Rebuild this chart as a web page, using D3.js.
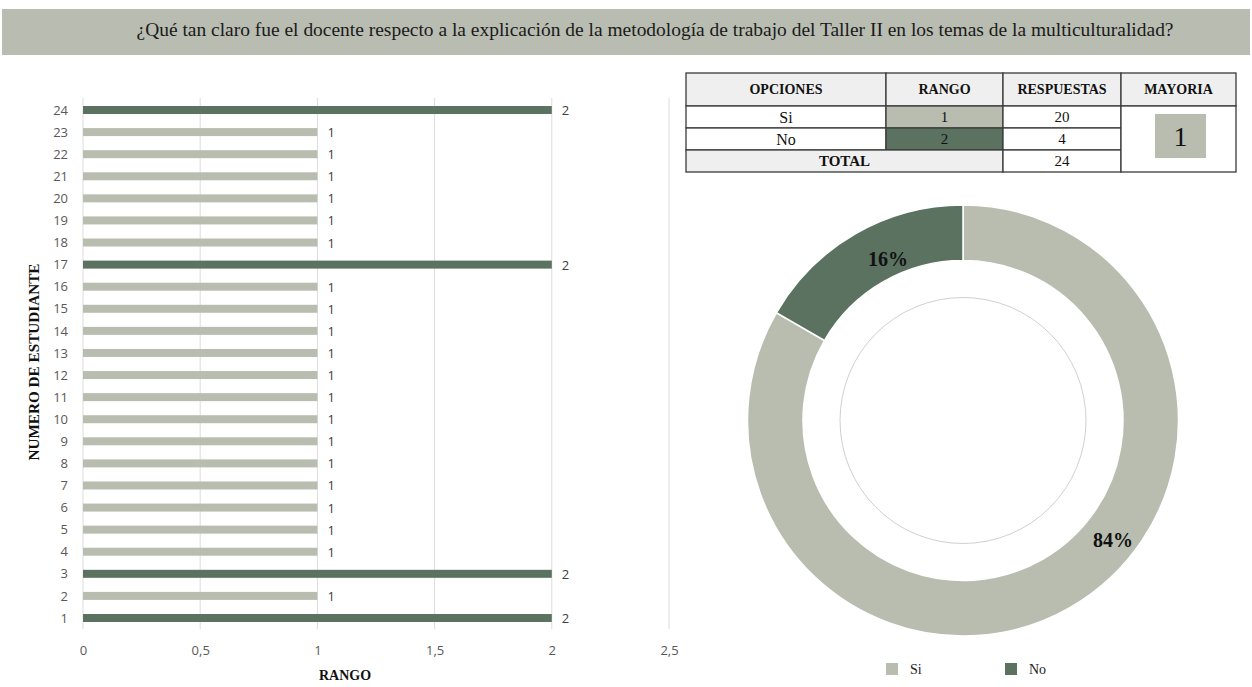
<!DOCTYPE html>
<html><head><meta charset="utf-8">
<script src="https://cdn.jsdelivr.net/npm/d3@7"></script>
<style>body{margin:0;background:#fff;} svg{display:block;}</style>
</head><body>
<svg id="c" width="1252" height="687"></svg>
<script>
const title = "¿Qué tan claro fue el docente respecto a la explicación de la metodología de trabajo del Taller II en los temas de la multiculturalidad?";
const students = d3.range(1, 25);
const rango = [2,1,2,1,1,1,1,1,1,1,1,1,1,1,1,1,2,1,1,1,1,1,1,2];
const xTicks = [0, 0.5, 1, 1.5, 2, 2.5];
const opciones = ["Si", "No"];
const rangoOpc = [1, 2];
const respuestas = [20, 4];
const total = 24;
const mayoria = 1;
const pctLabels = ["84%", "16%"];
const colors = {1: "#b8bdb0", 2: "#5b7261"};

const svg = d3.select("#c");
const serif = "'Liberation Serif','Times New Roman',serif";
const sans = "'Open Sans','Liberation Sans',sans-serif";

// title banner
svg.append("rect").attr("x", 2).attr("y", 9).attr("width", 1248).attr("height", 46).attr("fill", "#b9bdb1");
svg.append("text").attr("x", 655).attr("y", 36).attr("text-anchor", "middle")
  .attr("font-family", serif).attr("font-size", 19).attr("fill", "#1a1a1a")
  .attr("textLength", 1037).attr("lengthAdjust", "spacingAndGlyphs").text(title);

// bar chart
const x = d3.scaleLinear().domain([0, 2.5]).range([83, 669]);
const y = d3.scalePoint().domain(students).range([618, 110]);
const g = svg.append("g");
g.selectAll("line.grid").data(xTicks).join("line")
  .attr("x1", d => x(d)).attr("x2", d => x(d)).attr("y1", 98).attr("y2", 629)
  .attr("stroke", "#dcdcdc").attr("stroke-width", 1);
g.selectAll("rect.bar").data(students).join("rect")
  .attr("x", x(0)).attr("y", d => y(d) - 4).attr("height", 8)
  .attr("width", (d, i) => x(rango[i]) - x(0))
  .attr("fill", (d, i) => colors[rango[i]]);
g.selectAll("text.lbl").data(students).join("text")
  .attr("x", (d, i) => x(rango[i]) + 10).attr("y", d => y(d) + 5)
  .attr("font-family", sans).attr("font-size", 13).attr("fill", "#404040")
  .text((d, i) => rango[i]);
const xAxis = d3.axisBottom(x).tickValues(xTicks).tickSize(0).tickFormat(d => String(d).replace(".", ","));
g.append("g").attr("transform", "translate(0,643)").call(xAxis)
  .call(s => s.select(".domain").remove())
  .selectAll("text").attr("font-family", sans).attr("font-size", 13).attr("fill", "#595959");
const yAxis = d3.axisLeft(y).tickSize(0).tickPadding(0);
g.append("g").attr("transform", "translate(68,0)").call(yAxis)
  .call(s => s.select(".domain").remove())
  .selectAll("text").attr("font-family", sans).attr("font-size", 13).attr("fill", "#595959");
svg.append("text").attr("x", 345).attr("y", 680).attr("text-anchor", "middle")
  .attr("font-family", serif).attr("font-weight", "bold").attr("font-size", 14).attr("fill", "#111").text("RANGO");
svg.append("text").attr("transform", "translate(39,362) rotate(-90)").attr("text-anchor", "middle")
  .attr("font-family", serif).attr("font-weight", "bold").attr("font-size", 15).attr("fill", "#111")
  .attr("textLength", 197).attr("lengthAdjust", "spacingAndGlyphs").text("NUMERO DE ESTUDIANTE");

// table
const cols = [686, 886, 1003, 1121, 1236];
const rows = [73, 106, 128, 150, 172];
const t = svg.append("g");
const bc = "#3a3a3a";
function cell(x0, x1, y0, y1, fill) {
  t.append("rect").attr("x", x0).attr("y", y0).attr("width", x1 - x0).attr("height", y1 - y0)
    .attr("fill", fill).attr("stroke", bc).attr("stroke-width", 1.3);
}
function txt(xc, yc, s, size, bold) {
  t.append("text").attr("x", xc).attr("y", yc).attr("text-anchor", "middle").attr("dominant-baseline", "central")
    .attr("font-family", serif).attr("font-size", size).attr("font-weight", bold ? "bold" : "normal").attr("fill", "#111").text(s);
}
const headers = ["OPCIONES", "RANGO", "RESPUESTAS", "MAYORIA"];
headers.forEach((h, i) => { cell(cols[i], cols[i+1], rows[0], rows[1], "#efefef"); txt((cols[i]+cols[i+1])/2, (rows[0]+rows[1])/2, h, 14, true); });
opciones.forEach((o, r) => {
  cell(cols[0], cols[1], rows[r+1], rows[r+2], "#fff"); txt((cols[0]+cols[1])/2, (rows[r+1]+rows[r+2])/2, o, 16, false);
  cell(cols[1], cols[2], rows[r+1], rows[r+2], colors[rangoOpc[r]]); txt((cols[1]+cols[2])/2, (rows[r+1]+rows[r+2])/2, rangoOpc[r], 15, false);
  cell(cols[2], cols[3], rows[r+1], rows[r+2], "#fff"); txt((cols[2]+cols[3])/2, (rows[r+1]+rows[r+2])/2, respuestas[r], 15, false);
});
cell(cols[0], cols[2], rows[3], rows[4], "#efefef"); txt((cols[0]+cols[2])/2, (rows[3]+rows[4])/2, "TOTAL", 15, true);
cell(cols[2], cols[3], rows[3], rows[4], "#fff"); txt((cols[2]+cols[3])/2, (rows[3]+rows[4])/2, total, 15, false);
cell(cols[3], cols[4], rows[1], rows[4], "#fff");
t.append("rect").attr("x", 1155).attr("y", 114).attr("width", 51).attr("height", 44).attr("fill", colors[mayoria]);
txt(1180.5, 136, mayoria, 28, false);

// donut
const cx = 963, cy = 420.5, ro = 215.5, ri = 160;
const pie = d3.pie().sort(null).value(d => d)(respuestas);
const arc = d3.arc().innerRadius(ri).outerRadius(ro);
const dg = svg.append("g").attr("transform", `translate(${cx},${cy})`);
dg.selectAll("path").data(pie).join("path").attr("d", arc)
  .attr("fill", (d, i) => colors[rangoOpc[i]]).attr("stroke", "#fff").attr("stroke-width", 1.5);
dg.append("circle").attr("r", 123).attr("fill", "none").attr("stroke", "#d0d0d0").attr("stroke-width", 1);
const lblPos = [[150, 119], [-75, -162]];
dg.selectAll("text.pct").data(pie).join("text")
  .attr("x", (d, i) => lblPos[i][0]).attr("y", (d, i) => lblPos[i][1]).attr("text-anchor", "middle")
  .attr("dominant-baseline", "central")
  .attr("font-family", serif).attr("font-weight", "bold").attr("font-size", 20).attr("fill", "#111")
  .text((d, i) => pctLabels[i]);

// legend
const lg = svg.append("g");
const lx = [886, 1005];
opciones.forEach((o, i) => {
  lg.append("rect").attr("x", lx[i]).attr("y", 663).attr("width", 12).attr("height", 12).attr("fill", colors[rangoOpc[i]]);
  lg.append("text").attr("x", lx[i] + 24).attr("y", 674).attr("font-family", serif).attr("font-size", 14).attr("fill", "#222").text(o);
});
</script>
</body></html>
